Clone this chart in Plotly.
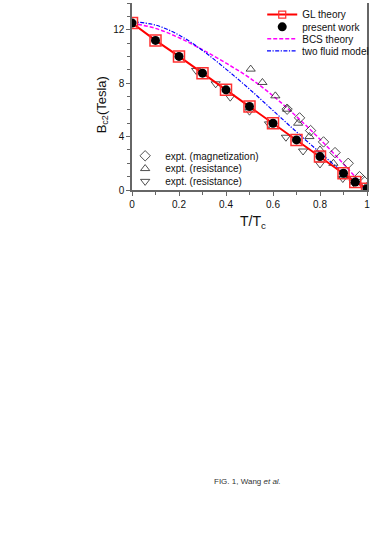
import plotly.graph_objects as go

# GL theory / present work
t_gl = [0, 0.1, 0.2, 0.3, 0.4, 0.5, 0.6, 0.7, 0.8, 0.9, 0.95, 1.0]
b_gl = [12.5, 11.2, 10.0, 8.75, 7.5, 6.25, 5.0, 3.75, 2.5, 1.25, 0.6, 0.1]
b_present = [12.5, 11.2, 10.0, 8.75, 7.5, 6.25, 5.0, 3.75, 2.5, 1.25, 0.6, 0.1]

# BCS theory
t_bcs = [0, 0.1, 0.2, 0.3, 0.4, 0.5, 0.6, 0.7, 0.8, 0.9, 1.0]
b_bcs = [12.5, 12.1, 11.4, 10.5, 9.5, 8.4, 7.05, 5.5, 3.8, 1.95, 0.0]

# two fluid model
t_tf = [0, 0.1, 0.2, 0.3, 0.4, 0.5, 0.6, 0.7, 0.8, 0.9, 1.0]
b_tf = [12.6, 12.35, 11.6, 10.45, 9.05, 7.55, 5.95, 4.35, 2.8, 1.3, 0.0]

# experiments
t_mag = [0.66, 0.713, 0.76, 0.815, 0.864, 0.92, 0.968, 0.985]
b_mag = [6.05, 5.4, 4.45, 3.6, 2.8, 2.0, 1.0, 0.7]
t_res_up = [0.505, 0.555, 0.61, 0.66, 0.707, 0.755, 0.8, 0.857, 0.9, 0.945]
b_res_up = [9.05, 8.05, 7.05, 6.05, 5.0, 4.0, 3.0, 2.0, 1.05, 0.6]
t_res_dn = [0.273, 0.356, 0.418, 0.5, 0.583, 0.655, 0.728, 0.8, 0.897, 0.943]
b_res_dn = [8.95, 7.95, 6.95, 5.9, 4.95, 3.95, 2.92, 1.95, 0.86, 0.55]

x_ticks = [0, 0.2, 0.4, 0.6, 0.8, 1]
x_ticklabels = ["0", "0.2", "0.4", "0.6", "0.8", "1"]
y_ticks = [0, 4, 8, 12]
y_ticklabels = ["0", "4", "8", "12"]

FONT = "Liberation Sans, Arial, sans-serif"

fig = go.Figure()

fig.add_trace(go.Scatter(x=t_bcs, y=b_bcs, mode="lines", name="BCS theory",
                         line=dict(color="#ff00ff", width=1.5, dash="4px,2px", shape="spline"),
                         legend="legend3"))
fig.add_trace(go.Scatter(x=t_tf, y=b_tf, mode="lines", name="two fluid model",
                         line=dict(color="#0000ff", width=1.2, dash="4px,1.5px,1.2px,1.5px", shape="spline"),
                         legend="legend4"))
fig.add_trace(go.Scatter(x=t_mag, y=b_mag, mode="markers", name="expt. (magnetization)",
                         marker=dict(symbol="diamond-open", size=8, color="#222", line=dict(width=0.8)),
                         legend="legend5"))
fig.add_trace(go.Scatter(x=t_res_up, y=b_res_up, mode="markers", name="expt. (resistance)",
                         marker=dict(symbol="triangle-up-open", size=8, color="#222", line=dict(width=0.8)),
                         legend="legend6"))
fig.add_trace(go.Scatter(x=t_res_dn, y=b_res_dn, mode="markers", name="expt. (resistance)",
                         marker=dict(symbol="triangle-down-open", size=8, color="#222", line=dict(width=0.8)),
                         legend="legend7"))
fig.add_trace(go.Scatter(x=t_gl, y=b_gl, mode="lines+markers", name="GL theory",
                         line=dict(color="#ff0000", width=2),
                         marker=dict(symbol="square-open", size=11, color="#ff3030", line=dict(width=1.5)),
                         legend="legend", showlegend=False))
# legend entry for GL theory with the small square used in the original key
fig.add_trace(go.Scatter(x=[None], y=[None], mode="lines+markers", name="GL theory",
                         line=dict(color="#ff0000", width=2),
                         marker=dict(symbol="square-open", size=7, color="#ff3030", line=dict(width=1.2)),
                         legend="legend", showlegend=True, hoverinfo="skip"))
fig.add_trace(go.Scatter(x=t_gl, y=b_present, mode="markers", name="present work",
                         marker=dict(symbol="circle", size=9, color="#000000"),
                         legend="legend2"))

def leg(x_px, y_px):
    # place legend so that its single item is centred at (page) y_px; legend top = centre - 14.5
    top = y_px - 14.5
    return dict(x=(x_px - 132) / 240.0, y=(190 - top) / 190.0, xanchor="left", yanchor="top",
                bgcolor="rgba(0,0,0,0)", borderwidth=0, itemwidth=30,
                font=dict(family=FONT, size=10, color="#111"))

lx1 = 265
lx2 = 125

axis_common = dict(showgrid=False, zeroline=False, showline=True, linecolor="#666", linewidth=1.5,
                   ticks="outside", ticklen=4, tickwidth=1, tickcolor="#666",
                   tickfont=dict(family=FONT, size=10, color="#111"))

fig.update_layout(
    width=374, height=558,
    showlegend=True,
    margin=dict(l=132, r=2, t=0, b=368),
    paper_bgcolor="white", plot_bgcolor="white",
    font=dict(family=FONT, size=10, color="#111"),
    xaxis=dict(range=[0, 1], tickvals=x_ticks, ticktext=x_ticklabels, mirror=False,
               minor=dict(dtick=0.1, ticks="outside", ticklen=3, tickcolor="#666"), **axis_common),
    yaxis=dict(range=[0, 14], tickvals=y_ticks, ticktext=y_ticklabels, mirror=True,
               minor=dict(dtick=1, ticks="outside", ticklen=3, tickcolor="#666"), **axis_common),
    legend=leg(lx1, 11.5),
    legend2=leg(lx1, 24.0),
    legend3=leg(lx1, 36.0),
    legend4=leg(lx1, 48.5),
    legend5=leg(lx2, 155),
    legend6=leg(lx2, 168),
    legend7=leg(lx2, 181),
    annotations=[
        dict(text="B<sub>c2</sub>(Tesla)", xref="paper", yref="paper", x=0, y=(190 - 104) / 190.0,
             xshift=-30, textangle=-90, showarrow=False, xanchor="center", yanchor="middle",
             font=dict(family=FONT, size=13, color="#111")),
        dict(text="T/T<sub>c</sub>", xref="paper", yref="paper", x=(256 - 132) / 240.0, y=0,
             yshift=-32, showarrow=False, xanchor="center", yanchor="middle",
             font=dict(family=FONT, size=14, color="#111")),
        dict(text="FIG. 1, Wang <i>et al.</i>", xref="paper", yref="paper", x=(250 - 132) / 240.0,
             y=(190 - 486) / 190.0, showarrow=False, xanchor="center", yanchor="middle",
             font=dict(family=FONT, size=8, color="#333")),
    ],
)

fig.write_html("out.html", config={"displayModeBar": False},
               post_script="document.body.style.margin='0px';")
